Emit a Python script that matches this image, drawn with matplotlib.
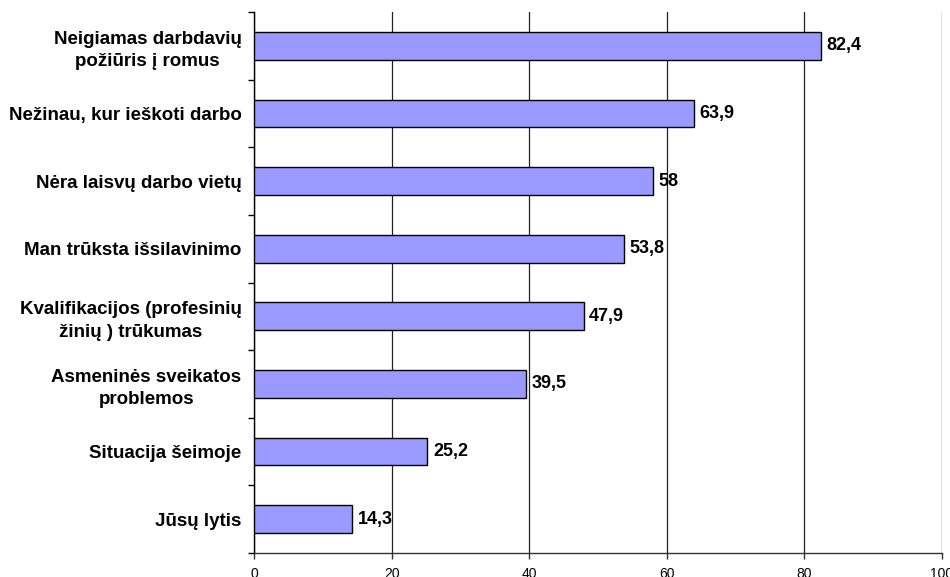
import matplotlib
matplotlib.use("Agg")
import matplotlib.pyplot as plt
import numpy as np

plt.rcParams['font.family'] = ['Liberation Sans', 'DejaVu Sans']

categories = [
    "Neigiamas darbdavių\npožiūris į romus",
    "Nežinau, kur ieškoti darbo",
    "Nėra laisvų darbo vietų",
    "Man trūksta išsilavinimo",
    "Kvalifikacijos (profesinių\nžinių ) trūkumas",
    "Asmeninės sveikatos\nproblemos",
    "Situacija šeimoje",
    "Jūsų lytis",
]
values = [82.4, 63.9, 58, 53.8, 47.9, 39.5, 25.2, 14.3]
xticks = [0, 20, 40, 60, 80, 100]

fig = plt.figure(figsize=(9.5, 5.77), dpi=100)
ax = fig.add_axes([254/950, 1 - 553/577, (942-254)/950, (553-12)/577])

n = len(categories)
ypos = np.arange(n)[::-1]
ax.barh(ypos, values, height=0.41, color='#9999FF', edgecolor='black', linewidth=1.0, zorder=3)

for y, v in zip(ypos, values):
    lab = ('%g' % v).replace('.', ',')
    ax.annotate(lab, xy=(v, y), xytext=(4, 0), textcoords='offset points',
                ha='left', va='center', fontsize=13, fontweight='bold', zorder=4)

ax.set_xlim(0, 100)
ax.set_ylim(-0.5, n - 0.5)
ax.set_xticks(xticks)
ax.set_xticklabels([str(t) for t in xticks], fontsize=10)
ax.set_yticks(ypos)
ax.set_yticklabels(categories, fontsize=13.5, fontweight='bold', linespacing=1.4)
for lbl in ax.get_yticklabels():
    lbl.set_multialignment('center')
ax.set_yticks(np.arange(-0.5, n, 1.0), minor=True)
ax.tick_params(axis='y', which='major', length=0, pad=9)
ax.tick_params(axis='y', which='minor', length=4, width=1, color='black')
ax.tick_params(axis='x', which='major', length=4, width=1, color='#333333', pad=6)

ax.grid(axis='x', color='#222222', linewidth=0.9, zorder=0)
ax.set_axisbelow(True)
for s in ['top', 'right']:
    ax.spines[s].set_visible(False)
ax.spines['left'].set_color('black')
ax.spines['left'].set_linewidth(1)
ax.spines['bottom'].set_color('#333333')
ax.spines['bottom'].set_linewidth(1)

fig.savefig('out.png', dpi=100)
